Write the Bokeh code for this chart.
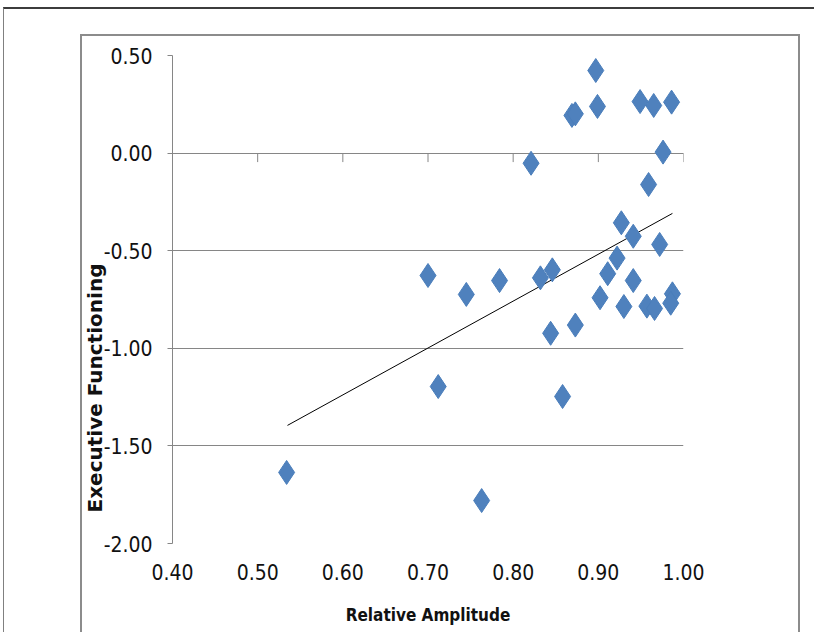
import numpy as np
from bokeh.plotting import figure
from bokeh.models import Title, NumeralTickFormatter, InlineStyleSheet
from bokeh.embed import file_html
from bokeh.resources import INLINE

# ---- data ----
relative_amplitude = [0.534, 0.700, 0.712, 0.745, 0.763, 0.784, 0.821, 0.832, 0.846, 0.844,
                      0.858, 0.869, 0.873, 0.873, 0.897, 0.899, 0.902, 0.911, 0.922, 0.927,
                      0.930, 0.941, 0.941, 0.949, 0.959, 0.957, 0.965, 0.966, 0.972, 0.976,
                      0.986, 0.987, 0.985]
executive_functioning = [-1.636, -0.627, -1.196, -0.724, -1.780, -0.653, -0.052, -0.639, -0.598, -0.923,
                         -1.247, 0.193, 0.201, -0.881, 0.423, 0.239, -0.741, -0.618, -0.538, -0.357,
                         -0.786, -0.426, -0.653, 0.264, -0.161, -0.784, 0.244, -0.796, -0.468, 0.005,
                         0.261, -0.721, -0.769]
trend_x = [0.535, 0.987]
trend_y = [-1.395, -0.309]
x_ticks = [0.4, 0.5, 0.6, 0.7, 0.8, 0.9, 1.0]
y_ticks = [-2.0, -1.5, -1.0, -0.5, 0.0, 0.5]
x_title = "Relative Amplitude"
y_title = "Executive Functioning"

GRID = "#868686"
BLUE = "#4F81BD"
NARROW = "DejaVu Sans Condensed, Roboto, sans-serif"
TEXT = "#111111"

p = figure(frame_width=511, frame_height=488,
           x_range=(x_ticks[0], x_ticks[-1]), y_range=(y_ticks[0], y_ticks[-1]),
           output_backend="svg", toolbar_location=None,
           min_border_left=172, min_border_right=127, min_border_top=55, min_border_bottom=89)
p.outline_line_color = None
p.background_fill_color = "white"
p.border_fill_color = "white"

p.xgrid.visible = False
p.ygrid.grid_line_color = GRID
p.ygrid.grid_line_width = 1

p.yaxis.ticker = y_ticks
p.xaxis.ticker = x_ticks
p.xaxis.formatter = NumeralTickFormatter(format="0.00")
p.yaxis.formatter = NumeralTickFormatter(format="0.00")

for ax in (p.xaxis, p.yaxis):
    ax.major_label_text_font = NARROW
    ax.major_label_text_font_size = "21px"
    ax.major_label_text_color = TEXT
    ax.minor_tick_line_color = None

p.yaxis.axis_line_color = GRID
p.yaxis.major_tick_line_color = GRID
p.yaxis.major_tick_out = 5
p.yaxis.major_tick_in = 0
p.yaxis.major_label_standoff = 15

p.xaxis.axis_line_color = None
p.xaxis.major_tick_line_color = None
p.xaxis.major_tick_out = 0
p.xaxis.major_tick_in = 0
p.xaxis.major_label_standoff = 20
p.xaxis.axis_label = x_title
p.xaxis.axis_label_text_font = NARROW
p.xaxis.axis_label_text_font_style = "bold"
p.xaxis.axis_label_text_font_size = "17px"
p.xaxis.axis_label_text_color = TEXT
p.xaxis.axis_label_standoff = 22

# horizontal axis crossing at y = 0, ticks pointing down
p.segment(x0=x_ticks[1:], y0=[0.0] * (len(x_ticks) - 1), x1=x_ticks[1:],
          y1=[-0.046] * (len(x_ticks) - 1), line_color=GRID, line_width=1)

# linear trend line
p.line(trend_x, trend_y, line_color="black", line_width=1)

p.scatter(relative_amplitude, executive_functioning, marker="diamond", size=24,
          fill_color=BLUE, line_color="#4A7EBB", line_width=1)

p.add_layout(Title(text=y_title, align="left", offset=31, standoff=-13,
                   text_font="DejaVu Sans", text_font_style="bold",
                   text_font_size="20px", text_color=TEXT), "left")

# chart-area frames (decorative borders around the chart)
p.stylesheets.append(InlineStyleSheet(css="""
:host { overflow: visible; }
:host::before { content: ""; position: absolute; left: 3px; top: 7px; width: 811px; height: 625px;
  box-sizing: border-box; border-top: 2px solid #3c3c3c; border-left: 1px solid #808080;
  pointer-events: none; z-index: 10; }
:host::after { content: ""; position: absolute; left: 80px; top: 34px; width: 720px; height: 598px;
  box-sizing: border-box; border: 2px solid #8c8c8c; border-bottom: none;
  pointer-events: none; z-index: 10; }
"""))

open("out.html", "w").write(file_html(p, INLINE))
